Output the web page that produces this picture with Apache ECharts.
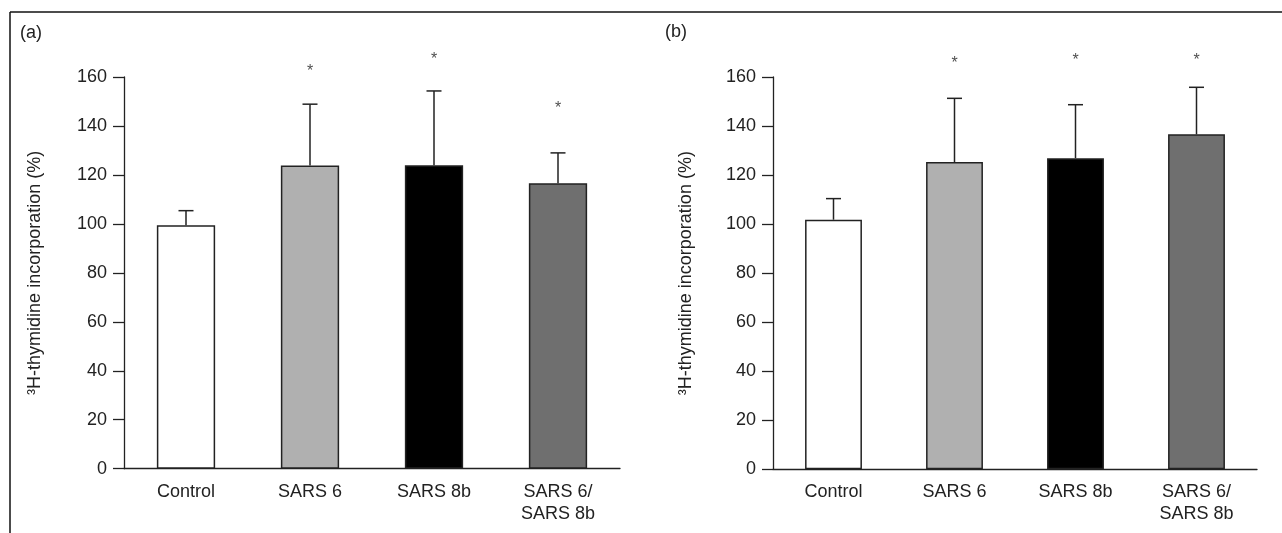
<!DOCTYPE html>
<html>
<head>
<meta charset="utf-8">
<script src="https://cdn.jsdelivr.net/npm/echarts@6/dist/echarts.min.js"></script>
<style>html,body{margin:0;padding:0;background:#fff}#c{width:1282px;height:533px}</style>
</head>
<body>
<div id="c"></div>
<script>
const categories = ['Control', 'SARS 6', 'SARS 8b', 'SARS 6/\nSARS 8b'];
const barColors = ['#ffffff', '#b0b0b0', '#000000', '#6f6f6f'];
const yTicks = [0, 20, 40, 60, 80, 100, 120, 140, 160];
const meanA = [99.4, 123.8, 124.0, 116.6];
const upperA = [105.4, 148.9, 154.3, 129.0];
const starA = [null, 164.0, 168.6, 148.9];
const meanB = [101.8, 125.3, 126.9, 136.6];
const upperB = [110.4, 151.3, 148.7, 155.8];
const starB = [null, 167.3, 168.3, 168.3];
const yName = '³H-thymidine incorporation (%)';

const FONT = 'Liberation Sans, Arial, sans-serif';
const INK = '#222';

function xAxis(g) {
  return {
    type: 'category', gridIndex: g, data: categories,
    axisLine: { lineStyle: { color: INK, width: 1.3 } },
    axisTick: { inside: false, length: 11, lineStyle: { color: INK, width: 1.3 } },
    axisLabel: { color: INK, fontSize: 18, fontFamily: FONT, margin: 12, lineHeight: 22 },
    splitLine: { show: false }
  };
}
function yAxis(g, gap) {
  return {
    type: 'value', gridIndex: g, min: yTicks[0], max: yTicks[yTicks.length - 1], interval: 20,
    name: yName, nameLocation: 'middle', nameGap: gap, nameRotate: 90,
    nameTextStyle: { color: INK, fontSize: 18, fontFamily: FONT },
    axisLine: { show: true, lineStyle: { color: INK, width: 1.3 } },
    axisTick: { show: true, inside: false, length: 11, lineStyle: { color: INK, width: 1.3 } },
    axisLabel: { color: INK, fontSize: 18, fontFamily: FONT, margin: 17 },
    splitLine: { show: false }
  };
}
function bars(g, mean) {
  return {
    type: 'bar', xAxisIndex: g, yAxisIndex: g, barWidth: '47%',
    data: mean.map((v, i) => ({ value: v, itemStyle: { color: barColors[i] } })),
    itemStyle: { borderColor: INK, borderWidth: 1.5 },
    silent: true, z: 2
  };
}
function errs(g, mean, upper) {
  return {
    type: 'custom', xAxisIndex: g, yAxisIndex: g, z: 3, silent: true, clip: false,
    data: mean.map((m, i) => [i, m, upper[i]]),
    renderItem: function (params, api) {
      const b = api.coord([api.value(0), api.value(1)]);
      const t = api.coord([api.value(0), api.value(2)]);
      const style = { stroke: INK, lineWidth: 1.5 };
      return {
        type: 'group', children: [
          { type: 'line', shape: { x1: b[0], y1: b[1], x2: t[0], y2: t[1] }, style: style },
          { type: 'line', shape: { x1: t[0] - 7.5, y1: t[1], x2: t[0] + 7.5, y2: t[1] }, style: style }
        ]
      };
    }
  };
}
function stars(g, st) {
  return {
    type: 'scatter', xAxisIndex: g, yAxisIndex: g, symbolSize: 0, silent: true, z: 4, clip: false,
    data: st.map((v, i) => v == null ? null : [i, v]).filter(d => d),
    label: { show: true, formatter: '*', position: 'inside', offset: [0, 4], color: INK, fontSize: 16, fontFamily: FONT }
  };
}

const chart = echarts.init(document.getElementById('c'), null, { renderer: 'canvas' });
chart.setOption({
  animation: false,
  backgroundColor: '#fff',
  grid: [
    { left: 124, right: 662, top: 77, bottom: 64.3 },
    { left: 773, right: 25, top: 77, bottom: 63.7 }
  ],
  xAxis: [xAxis(0), xAxis(1)],
  yAxis: [yAxis(0, 80), yAxis(1, 78)],
  series: [
    bars(0, meanA), errs(0, meanA, upperA), stars(0, starA),
    bars(1, meanB), errs(1, meanB, upperB), stars(1, starB)
  ],
  graphic: [
    { type: 'line', shape: { x1: 10, y1: 12, x2: 1282, y2: 12 }, style: { stroke: '#111', lineWidth: 1.5 } },
    { type: 'line', shape: { x1: 10, y1: 12, x2: 10, y2: 533 }, style: { stroke: '#111', lineWidth: 1.5 } },
    { type: 'text', left: 20, top: 24, style: { text: '(a)', fill: INK, font: '18px ' + FONT } },
    { type: 'text', left: 665, top: 23, style: { text: '(b)', fill: INK, font: '18px ' + FONT } }
  ]
});
</script>
</body>
</html>
